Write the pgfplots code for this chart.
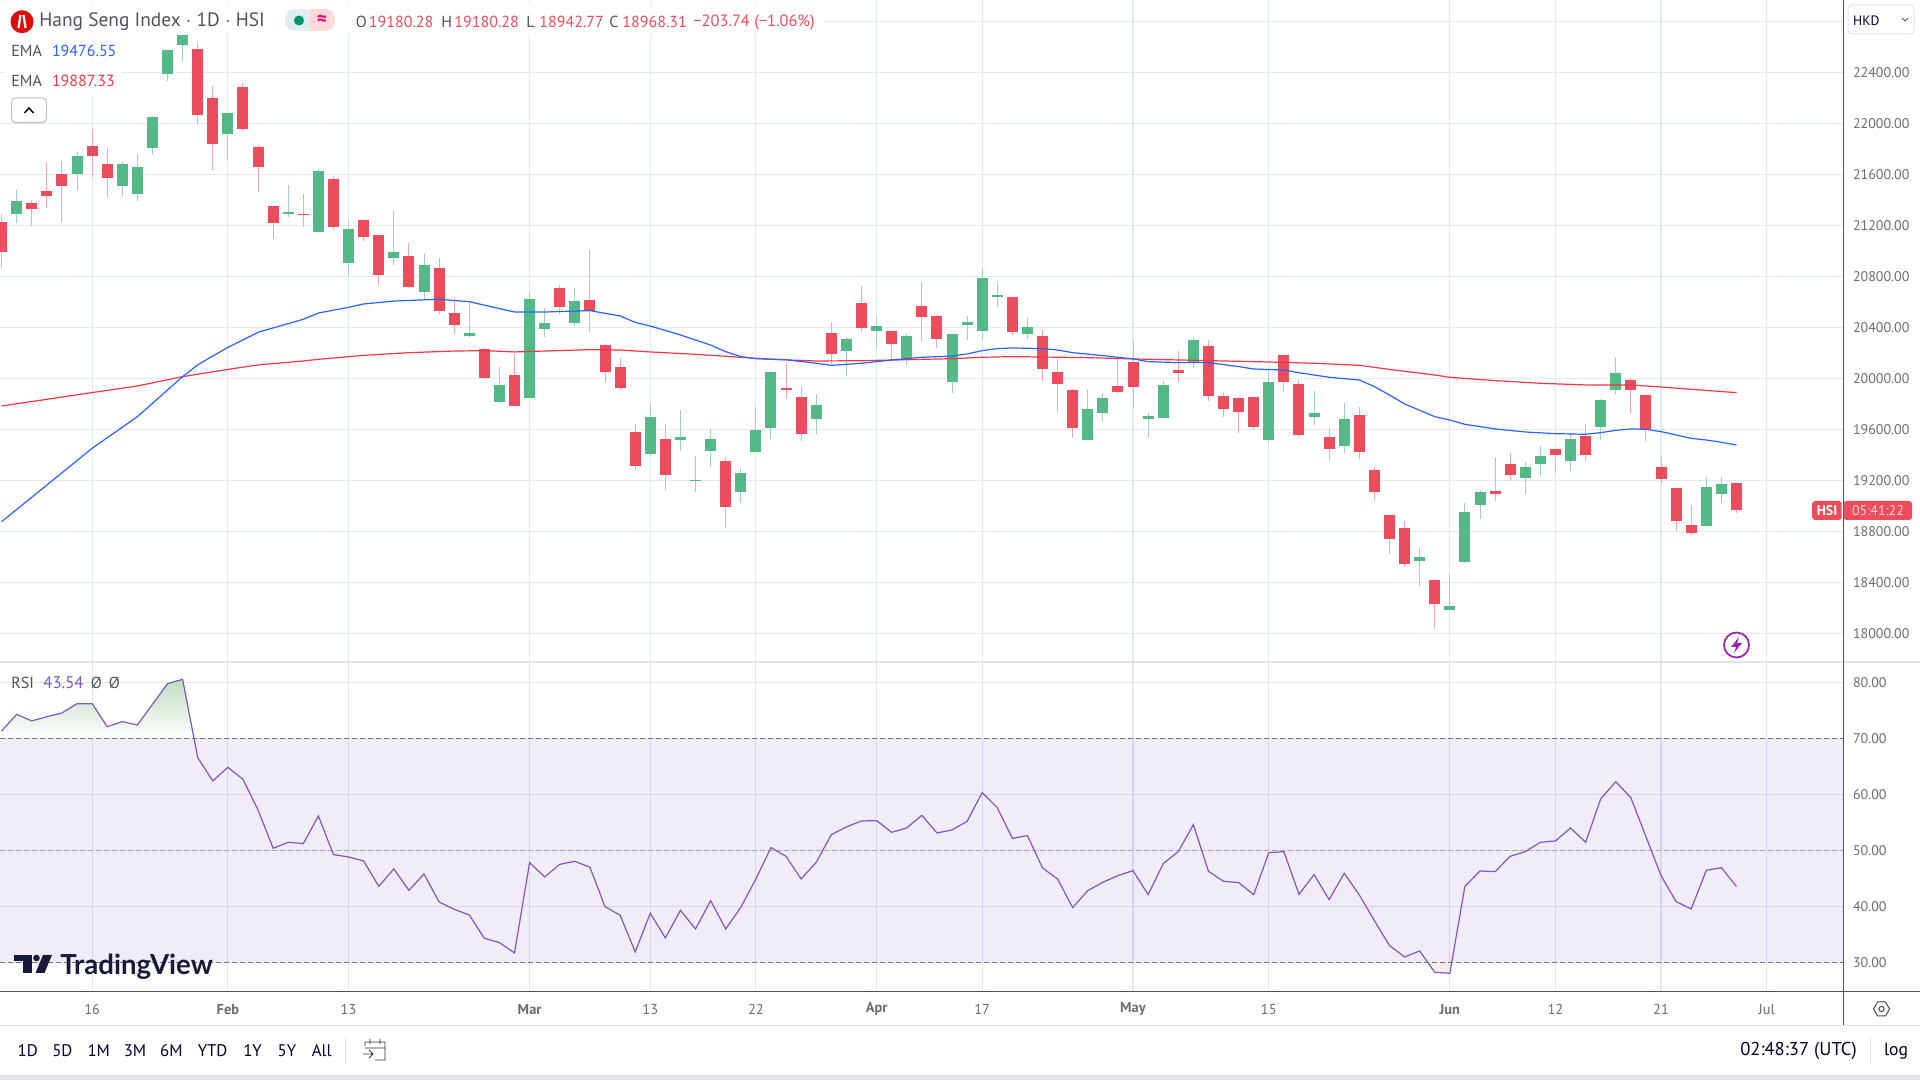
\documentclass[border=0pt]{standalone}
\usepackage{fontspec}
\setmainfont{PT Sans}
\newfontfamily\logofont{Lato}
\usepackage{pgfplots}
\usepackage{pgfplotstable}
\pgfplotsset{compat=1.18}
\definecolor{cgreen}{HTML}{53B987}
\definecolor{cred}{HTML}{EB4D5C}
\definecolor{wgreen}{HTML}{A3CEC9}
\definecolor{wred}{HTML}{F9A5B2}
\definecolor{cgrid}{HTML}{E1ECF2}
\definecolor{rgrid}{HTML}{E0E5F0}
\definecolor{blueema}{HTML}{2962FF}
\definecolor{redema}{HTML}{F23645}
\definecolor{rsi}{HTML}{7E57C2}
\definecolor{tcol}{HTML}{50535E}
\definecolor{axcol}{HTML}{50535E}
\definecolor{sep}{HTML}{E0E3EB}
\definecolor{bolt}{HTML}{9C27B0}
\pgfplotstableread{
i hi top bot lo
1 21477 21391 21291 21221
5 21773 21744 21603 21477
8 21697 21681 21508 21433
9 21759 21657 21446 21393
10 22057 22050 21806 21759
11 22575 22575 22387 22332
12 22693 22693 22617 22489
15 22081 22081 21916 21712
19 21516 21304 21289 21265
21 21642 21626 21148 21148
23 21234 21171 20905 20803
26 21312 20991 20944 20889
28 20975 20889 20677 20614
31 20606 20355 20332 20324
33 20089 19948 19814 19806
35 20677 20622 19846 19846
36 20552 20434 20387 20324
38 20708 20606 20434 20410
43 19791 19697 19406 19391
45 19752 19540 19516 19430
46 19391 19203 19195 19108
47 19603 19524 19430 19304
49 19297 19257 19108 19022
50 19775 19595 19422 19422
51 20057 20050 19610 19524
54 19877 19791 19681 19563
56 20324 20308 20214 20018
58 20481 20410 20371 20230
60 20348 20332 20144 20104
63 20348 20348 19971 19885
64 20489 20442 20418 20301
65 20865 20787 20371 20301
66 20748 20654 20638 20559
68 20473 20403 20348 20308
72 19908 19759 19516 19516
73 19885 19846 19728 19665
76 19728 19705 19681 19540
77 19979 19948 19689 19689
79 20324 20301 20120 20081
84 20057 19971 19516 19501
87 19901 19728 19697 19634
89 19806 19681 19469 19414
94 18669 18599 18567 18371
96 18465 18214 18183 18183
97 19022 18952 18559 18552
98 19124 19108 19007 18897
101 19344 19304 19218 19093
102 19469 19391 19328 19234
104 19563 19524 19352 19273
106 19838 19830 19618 19516
107 20159 20042 19908 19877
113 19226 19148 18842 18842
114 19226 19171 19093 19022
}\upcandles
\pgfplotstableread{
i hi top bot lo
0 21289 21226 20993 20868
2 21399 21375 21328 21197
3 21689 21469 21430 21336
4 21705 21603 21508 21229
6 21955 21822 21744 21582
7 21806 21681 21571 21425
13 22630 22583 22065 21995
14 22293 22199 21838 21634
16 22316 22285 21955 21940
17 21830 21814 21657 21461
18 21352 21352 21218 21093
20 21446 21289 21281 21187
22 21587 21563 21187 21163
24 21242 21242 21108 21077
25 21124 21124 20810 20732
27 21061 20959 20716 20708
29 20944 20865 20528 20505
30 20622 20512 20418 20348
32 20238 20230 20003 20003
34 20191 20026 19783 19783
37 20732 20708 20559 20505
39 21007 20614 20528 20363
40 20269 20261 20050 19971
41 20159 20089 19924 19908
42 19642 19579 19312 19281
44 19642 19524 19242 19124
48 19383 19352 18991 18826
52 20120 19924 19908 19838
53 19940 19854 19563 19508
55 20442 20355 20191 20112
57 20724 20591 20395 20363
59 20371 20371 20269 20128
61 20755 20567 20481 20293
62 20497 20489 20308 20238
67 20638 20638 20363 20340
69 20379 20332 20073 19979
70 20152 20050 19956 19736
71 19916 19908 19610 19532
74 20167 19940 19893 19885
75 20293 20128 19932 19767
78 20214 20065 20042 19971
80 20301 20254 19861 19822
81 19885 19861 19759 19697
82 19854 19846 19736 19571
83 19854 19854 19618 19595
85 20183 20183 19971 19893
86 19987 19956 19556 19540
88 19610 19540 19446 19352
90 19775 19712 19422 19367
91 19304 19281 19108 19046
92 18928 18928 18740 18622
93 18881 18826 18544 18520
95 18418 18418 18230 18042
99 19383 19116 19093 19038
100 19414 19328 19242 19195
103 19446 19446 19399 19257
105 19642 19548 19399 19352
108 20003 19987 19908 19720
109 19869 19869 19603 19508
110 19383 19304 19210 19179
111 19140 19140 18881 18803
112 19007 18850 18787 18771
115 19180.28 19180.28 18968.31 18942.77
}\downcandles
\pgfplotstableread{
i v
0 18876
3 19163
6 19451
9 19699
10 19804
12 20013
13 20105
14 20175
15 20243
16 20301
17 20361
20 20463
21 20512
23 20557
24 20583
26 20606
29 20620
31 20601
34 20520
36 20520
39 20531
41 20489
42 20439
43 20410
45 20340
47 20261
48 20209
49 20170
50 20154
52 20146
54 20118
55 20102
57 20118
59 20144
61 20165
63 20175
64 20191
65 20217
66 20233
67 20238
69 20233
70 20222
71 20201
73 20178
75 20152
76 20131
78 20123
80 20123
82 20092
83 20073
85 20065
86 20044
88 20008
90 19987
91 19935
92 19869
93 19799
95 19699
96 19673
97 19639
99 19603
101 19579
103 19566
105 19561
106 19574
107 19592
108 19603
109 19600
110 19582
111 19556
112 19529
113 19516
114 19498
115 19476.55
}\emablue
\pgfplotstableread{
i v
0 19783
6 19888
9 19940
12 20013
15 20070
17 20105
20 20136
21 20149
24 20180
27 20201
30 20214
32 20217
34 20207
36 20214
39 20225
41 20222
43 20207
46 20188
49 20165
51 20149
54 20136
57 20138
60 20146
63 20154
65 20165
67 20170
69 20167
72 20162
75 20152
78 20144
81 20136
84 20128
87 20118
90 20102
92 20070
95 20026
96 20008
99 19982
102 19961
105 19948
108 19948
110 19932
112 19914
115 19887.33
}\emared
\pgfplotstableread{
i v
0 71.31
1 74.29
2 73.10
3 73.87
4 74.52
5 76.19
6 76.19
7 72.08
8 72.98
9 72.38
10 76.07
11 79.76
12 80.54
13 66.55
14 62.38
15 64.82
16 62.68
17 57.20
18 50.36
19 51.43
20 51.19
21 56.13
22 49.23
23 48.81
24 48.10
25 43.57
26 46.67
27 42.86
28 45.77
29 40.77
30 39.46
31 38.45
32 34.29
33 33.51
34 31.67
35 47.80
36 45.24
37 47.50
38 48.04
39 46.96
40 39.94
41 38.39
42 31.85
43 38.75
44 34.35
45 39.29
46 35.95
47 41.01
48 35.95
49 39.82
50 44.88
51 50.48
52 48.93
53 44.88
54 47.86
55 52.80
56 54.17
57 55.24
58 55.30
59 53.21
60 53.99
61 56.25
62 53.10
63 53.63
64 55.18
65 60.30
66 57.62
67 52.14
68 52.62
69 46.85
70 44.88
71 39.76
72 42.80
73 44.29
74 45.48
75 46.37
76 42.08
77 47.62
78 49.76
79 54.58
80 46.25
81 44.46
82 44.23
83 42.08
84 49.58
85 49.76
86 42.14
87 45.65
88 41.19
89 45.89
90 42.02
91 37.44
92 32.98
93 30.95
94 32.02
95 28.21
96 28.04
97 43.57
98 46.31
99 46.19
100 48.93
101 49.76
102 51.43
103 51.67
104 53.99
105 51.43
106 59.17
107 62.26
108 59.40
109 52.44
110 45.48
111 40.83
112 39.52
113 46.43
114 46.90
115 43.54
}\rsitable
\pgfplotsset{
  tvaxis/.style={
    scale only axis, width=922pt,
    xmin=-0.106, xmax=122.13,
    xtick={6,15,23,35,43,50,58,65,75,84,96,103,110,117},
    major tick length=0pt,
    axis line style={draw=none},
    xmajorgrids, ymajorgrids,
    yticklabel pos=right,
    /pgf/number format/assume math mode=true,
    /pgf/number format/.cd, fixed, fixed zerofill, precision=2, 1000 sep={},
    /pgfplots/.cd,
    yticklabel style={font=\fontsize{7}{8}\selectfont, text=tcol!85!white, anchor=west, xshift=1pt},
    scaled y ticks=false,
  },
  candle/.style n args={2}{forget plot, draw=none, mark=none,
    error bars/.cd, y dir=both, y explicit, error mark=none,
    error bar style={draw=#1, line width=#2}},
}
\begin{document}
\begin{tikzpicture}
\path[use as bounding box, fill=white] (0,0) rectangle (960pt,540pt);
\begin{axis}[tvaxis, at={(0pt,209pt)}, anchor=south west, height=331pt,
  ymin=17775.1, ymax=22967.3,
  ytick={18000,18400,18800,19200,19600,20000,20400,20800,21200,21600,22000,22400},
  extra y ticks={22800}, extra y tick labels={}, extra y tick style={grid=major},
  xticklabels={},
  grid style={draw=cgrid, line width=.6pt},
]
\addplot[candle={wgreen}{.5pt}] table[x=i,y=top,y error plus expr=\thisrow{hi}-\thisrow{top},y error minus expr=\thisrow{top}-\thisrow{lo}]{\upcandles};
\addplot[candle={wred}{.5pt}] table[x=i,y=top,y error plus expr=\thisrow{hi}-\thisrow{top},y error minus expr=\thisrow{top}-\thisrow{lo}]{\downcandles};
\addplot[candle={cgreen}{5.5pt}] table[x=i,y=top,y error plus expr=0,y error minus expr=\thisrow{top}-\thisrow{bot}]{\upcandles};
\addplot[candle={cred}{5.5pt}] table[x=i,y=top,y error plus expr=0,y error minus expr=\thisrow{top}-\thisrow{bot}]{\downcandles};
\addplot[forget plot, redema, line width=.6pt, mark=none] table[x=i,y=v]{\emared};
\addplot[forget plot, blueema, line width=.6pt, mark=none] table[x=i,y=v]{\emablue};
\end{axis}
\begin{axis}[tvaxis, at={(0pt,44.35pt)}, anchor=south west, height=164.4pt,
  ymin=24.82, ymax=83.54,
  ytick={30,40,50,60,70,80},
  xticklabels={16,\textbf{Feb},13,\textbf{Mar},13,22,\textbf{Apr},17,\textbf{May},15,\textbf{Jun},12,21,Jul},
  xticklabel style={font=\fontsize{7.2}{8}\selectfont, text=tcol!85!white, anchor=center, yshift=-9pt},
  grid style={draw=rgrid, line width=.6pt},
]
\addplot[forget plot, draw=none, fill=rsi, fill opacity=.1] coordinates {(-0.106,30) (122.13,30) (122.13,70) (-0.106,70)} -- cycle;
\addplot[forget plot, draw=none, top color=green!45!black!25!white, bottom color=white] coordinates {(0,70) (0,71.31) (1,74.29) (2,73.10) (3,73.87) (4,74.52) (5,76.19) (6,76.19) (7,72.08) (8,72.98) (9,72.38) (10,76.07) (11,79.76) (12,80.54) (12.75,70)} -- cycle;
\addplot[forget plot, draw=none, fill=red!8!white] coordinates {(94.53,30) (95,28.21) (96,28.04) (96.13,30)} -- cycle;
\addplot[forget plot, draw=axcol!80!white, dash pattern=on 2.5pt off 1.5pt, line width=.5pt] coordinates {(-0.106,70) (122.13,70)};
\addplot[forget plot, draw=axcol!50!white, dash pattern=on 2.5pt off 1.5pt, line width=.5pt] coordinates {(-0.106,50) (122.13,50)};
\addplot[forget plot, draw=axcol!80!white, dash pattern=on 2.5pt off 1.5pt, line width=.5pt] coordinates {(-0.106,30) (122.13,30)};
\addplot[forget plot, rsi, line width=.6pt, mark=none] table[x=i,y=v]{\rsitable};
\end{axis}
\begin{scope}[x=.5pt,y=-.5pt,yshift=540pt]
% chrome lines
\fill[sep] (0,661.5) rectangle (1920,663.5);
\draw[axcol,line width=.5pt] (1843.5,0) -- (1843.5,1026);
\draw[axcol,line width=.5pt] (0,991.3) -- (1920,991.3);
\draw[sep,line width=.5pt] (0,1026) -- (1920,1026);
\fill[sep] (0,1075) rectangle (1920,1080);
% header backgrounds
\fill[white,opacity=.85] (0,4) rectangle (825,35);
\fill[white,opacity=.85] (5,38) rectangle (122,95);
% logo
\fill[red!85!black!95!white] (22,21.7) circle (11.5);
\draw[white,line width=1.1pt] (20.5,15) -- (18.5,28) (23.5,15) -- (25.5,28);
\node[anchor=west,inner sep=0,text=tcol,font=\fontsize{9.7}{10}\selectfont] at (39,21.5) {Hang Seng Index $\cdot$ 1D $\cdot$ HSI};
% pill
\fill[rounded corners=5pt,fill=teal!13!white] (285,9) rectangle (318,31);
\fill[rounded corners=5pt,fill=pink!60!white] (310,9) rectangle (335,31);
\fill[pink!60!white] (310,9) rectangle (318,31);
\fill[teal!85!green] (299,20.5) circle (5);
\node[text=magenta!80!red,font=\fontsize{9.5}{10}\bfseries\selectfont,inner sep=0] at (322,20) {≈};
% OHLC
\def\ov#1#2#3{\node[anchor=west,inner sep=0,text=tcol,font=\fontsize{8}{9}\selectfont] at (#1,22) {#2};\node[anchor=west,inner sep=0,text=cred,font=\fontsize{8}{9}\selectfont] at (#1+13,22) {#3};}
\ov{355.5}{O}{19180.28}
\ov{441}{H}{19180.28}
\ov{526}{L}{18942.77}
\ov{609}{C}{18968.31}
\node[anchor=west,inner sep=0,text=cred,font=\fontsize{8.2}{9}\selectfont] at (693,22) {−203.74 (−1.06\%)};
% EMA
\node[anchor=west,inner sep=0,text=tcol,font=\fontsize{8}{9}\selectfont] at (11,50.7) {EMA};
\node[anchor=west,inner sep=0,text=blueema,font=\fontsize{8}{9}\selectfont] at (51.6,50.7) {19476.55};
\node[anchor=west,inner sep=0,text=tcol,font=\fontsize{8}{9}\selectfont] at (11,80.7) {EMA};
\node[anchor=west,inner sep=0,text=redema,font=\fontsize{8}{9}\selectfont] at (51.6,80.7) {19887.33};
\draw[sep!85!black,fill=white,rounded corners=2pt,line width=.5pt] (11.5,98) rectangle (46.6,122.5);
\draw[black,line width=.7pt] (24.5,113) -- (29,108) -- (33.5,113);
% HKD
\draw[sep,fill=white,rounded corners=2pt,line width=.5pt] (1848,5) rectangle (1914,34);
\node[anchor=west,inner sep=0,text=black!80!blue,font=\fontsize{6.8}{8}\selectfont] at (1852.7,21) {HKD};
\draw[tcol,line width=.4pt] (1902,18) -- (1905,21) -- (1908,18);
% price tag
\fill[cred,rounded corners=1.5pt] (1812,501) rectangle (1841.7,520);
\fill[cred,rounded corners=1.5pt] (1843.5,501) rectangle (1912,520);
\node[text=white,inner sep=0,font=\fontsize{7}{8}\bfseries\selectfont] at (1827,510.5) {HSI};
\node[text=white!85!red,inner sep=0,font=\fontsize{7}{8}\selectfont] at (1878,510.5) {05:41:22};
% lightning
\draw[bolt,line width=.9pt,fill=white] (1736.5,645) circle (12.5);
\fill[bolt] (1739,637) -- (1731,647) -- (1736,647) -- (1734,653) -- (1742,643) -- (1737,643) -- cycle;
% RSI legend
\node[anchor=west,inner sep=0,text=tcol,font=\fontsize{8}{9}\selectfont] at (11,683) {RSI};
\node[anchor=west,inner sep=0,text=rsi,font=\fontsize{8.4}{9}\selectfont] at (43,683) {43.54};
\node[anchor=west,inner sep=0,text=tcol,font=\fontsize{8}{9}\selectfont] at (90.5,683) {Ø};
\node[anchor=west,inner sep=0,text=tcol,font=\fontsize{8}{9}\selectfont] at (108.5,683) {Ø};
% TradingView logo
\fill[black!85!blue!90!white] (14,955) rectangle (32,961.5);
\fill[black!85!blue!90!white] (23,961.5) rectangle (32,973);
\fill[black!85!blue!90!white] (36.5,958) circle (3.3);
\fill[black!85!blue!90!white] (43,955) -- (52,955) -- (44.5,973) -- (35.5,973) -- cycle;
\node[anchor=west,inner sep=0,text=black!85!blue!90!white,font=\logofont\fontsize{13.8}{16}\bfseries\selectfont] at (60,966.5) {TradingView};
% toolbar
\foreach \x/\t in {27.8/1D,62.4/5D,98.8/1M,135/3M,171.4/6M,212.6/YTD,252.6/1Y,287/5Y,321.6/All}
  \node[text=black!80!blue,inner sep=0,font=\fontsize{8.4}{9}\selectfont] at (\x,1051) {\t};
\draw[sep,line width=.5pt] (345,1037) -- (345,1065);
\draw[black!80,line width=.45pt] (365,1046) -- (365,1042) -- (385,1042) -- (385,1060) -- (375,1060) (365,1048) -- (385,1048) (370,1039) -- (370,1044) (380,1039) -- (380,1044) (363,1054) -- (373,1054) (369,1050) -- (373,1054) -- (369,1058);
\node[text=black!80!blue,inner sep=0,font=\fontsize{9.3}{10}\selectfont] at (1798.5,1051) {02:48:37 (UTC)};
\draw[sep,line width=.5pt] (1870.6,1037) -- (1870.6,1065);
\node[text=black!80!blue,inner sep=0,font=\fontsize{8.8}{10}\selectfont] at (1896,1051) {log};
% settings
\draw[tcol!90!black,line width=.5pt] (1873.5,1009) -- (1877.5,1002) -- (1885.5,1002) -- (1889.5,1009) -- (1885.5,1016) -- (1877.5,1016) -- cycle;
\draw[tcol!90!black,line width=.5pt] (1881.5,1009) circle (2.6);
\end{scope}
\end{tikzpicture}
\end{document}
